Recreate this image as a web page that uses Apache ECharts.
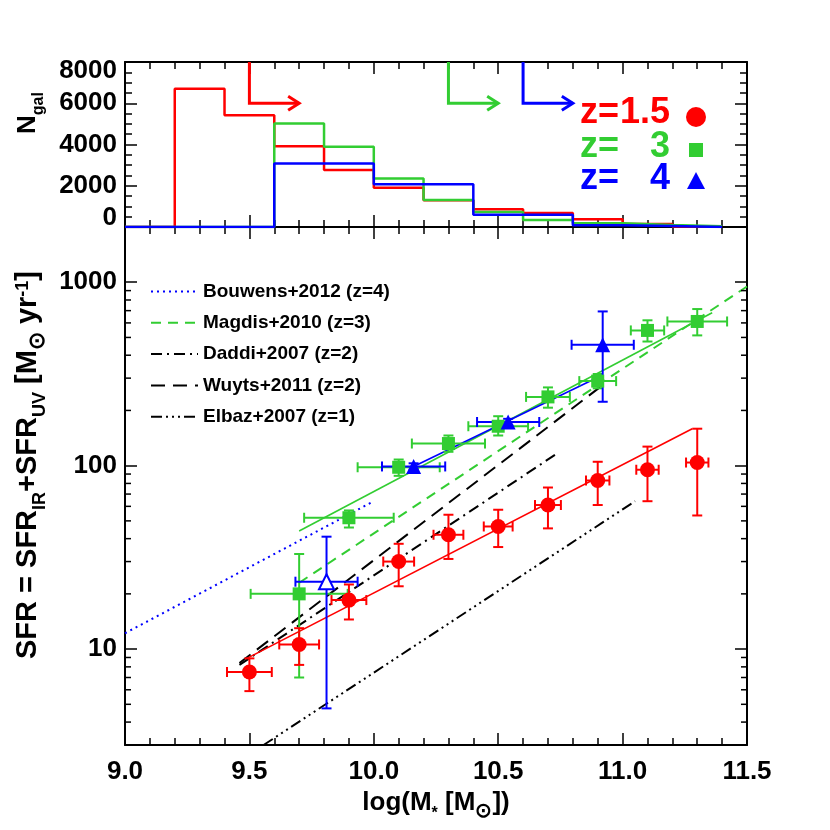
<!DOCTYPE html>
<html>
<head>
<meta charset="utf-8">
<script src="https://cdn.jsdelivr.net/npm/echarts@6/dist/echarts.min.js"></script>
<style>html,body{margin:0;padding:0;background:#fff}#chart{width:830px;height:830px}</style>
</head>
<body>
<div id="chart"></div>
<script>
// ---- top panel: number of galaxies per stellar-mass bin ----
var binEdges  = [9.0, 9.2, 9.4, 9.6, 9.8, 10.0, 10.2, 10.4, 10.6, 10.8, 11.0, 11.2, 11.4];
var histRed   = [0, 6700, 5420, 3920, 2760, 1900, 1300, 860, 680, 370, 145, 20];
var histGreen = [0, 0, 0, 5020, 3890, 2350, 1310, 730, 340, 180, 100, 40];
var histBlue  = [0, 0, 0, 3080, 3080, 2070, 2070, 600, 600, 80, 50, 0];
// mass-completeness arrows
var arrowFrom  = [9.5, 10.3, 10.6];
var arrowTo    = [9.7, 10.5, 10.8];
var arrowLevel = [6000, 6000, 6000];

// ---- main panel: stacked SFR vs mass ----
var redX    = [9.5, 9.7, 9.9, 10.1, 10.3, 10.5, 10.7, 10.9, 11.1, 11.3];
var redY    = [7.5, 10.6, 18.5, 30, 42, 46.6, 61, 83, 95, 104];
var redYlo  = [5.9, 8.2, 14.5, 22, 31, 36, 45.5, 61, 64, 53.5];
var redYhi  = [8.9, 13, 22.5, 37.5, 54, 57.5, 76, 105, 127, 159];
var redXerr = [0.09, 0.08, 0.07, 0.062, 0.06, 0.058, 0.052, 0.047, 0.045, 0.045];

var greenX    = [9.7, 9.9, 10.1, 10.3, 10.5, 10.7, 10.9, 11.1, 11.3];
var greenY    = [20, 52, 98, 132, 164, 237, 289, 546, 611];
var greenYlo  = [7, 46, 88, 119, 146, 207, 264, 475, 513];
var greenYhi  = [33, 57, 108, 146, 186, 267, 316, 620, 714];
var greenXerr = [0.195, 0.18, 0.165, 0.147, 0.12, 0.088, 0.074, 0.067, 0.12];

var blueX    = [10.16, 10.54, 10.92];
var blueY    = [99, 173, 456];
var blueYlo  = [95, 166, 223];
var blueYhi  = [103, 180, 693];
var blueXerr = [0.127, 0.125, 0.125];

var openX    = [9.81];
var openY    = [23.3];
var openYlo  = [4.75];
var openYhi  = [41];
var openXerr = [0.125];

// fits to our points
var redFitX   = [9.49, 11.28],  redFitY   = [8.9, 159];
var greenFitX = [9.70, 11.36],  greenFitY = [44, 682];
var blueFitX  = [10.16, 10.92], blueFitY  = [99, 312];

// literature relations
var modelNames = ['Bouwens+2012 (z=4)', 'Magdis+2010 (z=3)', 'Daddi+2007 (z=2)', 'Wuyts+2011 (z=2)', 'Elbaz+2007 (z=1)'];
var modelX = [[9.0, 10.0], [9.70, 11.5], [9.46, 10.73], [9.46, 10.92], [9.557, 11.05]];
var modelY = [[12.2, 64], [23, 948], [8.2, 115], [8.4, 275], [3.0, 64]];

var logMinorTicks = [4, 5, 6, 7, 8, 9, 20, 30, 40, 50, 60, 70, 80, 90, 200, 300, 400, 500, 600, 700, 800, 900];

var RED = '#ff0000', GREEN = '#32cd32', BLUE = '#0000ff';
var FONT = '"Liberation Sans", Arial, Helvetica, sans-serif';
var X_MIN = 9.0, X_MAX = 11.5, N_MAX = 8000;

function pairs(xs, ys) {
	return xs.map(function (x, i) { return [x, ys[i]]; });
}
function histData(counts) {
	var d = counts.map(function (c, i) { return [binEdges[i], c]; });
	d.push([binEdges[binEdges.length - 1], counts[counts.length - 1]]);
	return d;
}
function errData(xs, ys, xe, ylo, yhi) {
	return xs.map(function (x, i) { return [x, ys[i], x - xe[i], x + xe[i], ylo[i], yhi[i]]; });
}

function errRender(color) {
	return function (params, api) {
		var x = api.value(0), y = api.value(1);
		var c = api.coord([x, y]);
		var pl = api.coord([api.value(2), y]), ph = api.coord([api.value(3), y]);
		var pb = api.coord([x, api.value(4)]), pt = api.coord([x, api.value(5)]);
		var cap = 5;
		var st = {stroke: color, lineWidth: 2};
		function ln(x1, y1, x2, y2) { return {type: 'line', shape: {x1: x1, y1: y1, x2: x2, y2: y2}, style: st}; }
		return {type: 'group', children: [
			ln(pl[0], c[1], ph[0], c[1]),
			ln(pl[0], c[1] - cap, pl[0], c[1] + cap),
			ln(ph[0], c[1] - cap, ph[0], c[1] + cap),
			ln(c[0], pb[1], c[0], pt[1]),
			ln(c[0] - cap, pb[1], c[0] + cap, pb[1]),
			ln(c[0] - cap, pt[1], c[0] + cap, pt[1])
		]};
	};
}

var arrowColors = [RED, GREEN, BLUE];
function arrowRender(params, api) {
	var x0 = api.value(0), x1 = api.value(1), lv = api.value(2);
	var pTop = api.coord([x0, N_MAX]), pCorner = api.coord([x0, lv]), pEnd = api.coord([x1, lv]);
	var st = {stroke: arrowColors[params.dataIndex], lineWidth: 3, fill: 'none'};
	return {type: 'group', children: [
		{type: 'polyline', shape: {points: [pTop, pCorner, pEnd]}, style: st},
		{type: 'polyline', shape: {points: [[pEnd[0] - 11, pEnd[1] - 7], pEnd, [pEnd[0] - 11, pEnd[1] + 7]]}, style: st}
	]};
}

function minorTickRender(params, api) {
	var v = api.value(0);
	var l = api.coord([X_MIN, v]), r = api.coord([X_MAX, v]);
	var st = {stroke: '#000', lineWidth: 1.5};
	return {type: 'group', children: [
		{type: 'line', shape: {x1: l[0], y1: l[1], x2: l[0] + 6, y2: l[1]}, style: st},
		{type: 'line', shape: {x1: r[0], y1: r[1], x2: r[0] - 6, y2: r[1]}, style: st}
	]};
}

var tickLabel = {fontFamily: FONT, fontSize: 26, fontWeight: 'bold', color: '#000'};
function richSet(size) {
	var s = size / 26;
	return {
		a:   {fontFamily: FONT, fontSize: size, fontWeight: 'bold', color: '#000', verticalAlign: 'top', lineHeight: Math.round(30 * s)},
		sub: {fontFamily: FONT, fontSize: Math.round(16 * s), fontWeight: 'bold', color: '#000', verticalAlign: 'top', lineHeight: Math.round(18 * s), padding: [Math.round(16 * s), 0, 0, 0]},
		sun: {fontFamily: FONT, fontSize: Math.round(20 * s), fontWeight: 'bold', color: '#000', verticalAlign: 'top', lineHeight: Math.round(22 * s), padding: [Math.round(12 * s), 0, 0, 0]},
		sup: {fontFamily: FONT, fontSize: Math.round(16 * s), fontWeight: 'bold', color: '#000', verticalAlign: 'top', lineHeight: Math.round(18 * s), padding: [1, 0, 0, 0]}
	};
}

function boxX(grid, pos, labels) {
	return {
		type: 'value', gridIndex: grid, position: pos, min: X_MIN, max: X_MAX, interval: 0.5,
		axisLine: {show: true, onZero: false, lineStyle: {color: '#000', width: 2}},
		axisTick: {show: true, inside: true, length: 12, lineStyle: {color: '#000', width: 1.5}},
		minorTick: {show: true, splitNumber: 5, length: 7, lineStyle: {color: '#000', width: 1.5}},
		splitLine: {show: false}, minorSplitLine: {show: false},
		axisLabel: labels ? Object.assign({margin: 14, formatter: function (v) { return v.toFixed(1); }}, tickLabel) : {show: false}
	};
}
function histY(pos, labels) {
	return {
		type: 'value', gridIndex: 0, position: pos, min: 0, max: N_MAX, interval: 2000,
		axisLine: {show: true, onZero: false, lineStyle: {color: '#000', width: 2}},
		axisTick: {show: true, inside: true, length: 12, lineStyle: {color: '#000', width: 1.5}},
		minorTick: {show: true, splitNumber: 4, length: 7, lineStyle: {color: '#000', width: 1.5}},
		splitLine: {show: false}, minorSplitLine: {show: false},
		axisLabel: labels ? Object.assign({margin: 8, lineHeight: 18, verticalAlignMinLabel: 'bottom', verticalAlignMaxLabel: 'top',
			formatter: function (v) { return String(Math.round(v)); }}, tickLabel) : {show: false}
	};
}
function sfrY(pos, labels) {
	return {
		type: 'log', logBase: 10, gridIndex: 1, position: pos, min: 3, max: 2000,
		axisLine: {show: true, onZero: false, lineStyle: {color: '#000', width: 2}},
		axisTick: {show: true, inside: true, length: 12, lineStyle: {color: '#000', width: 1.5}},
		minorTick: {show: false},
		splitLine: {show: false},
		axisLabel: labels ? Object.assign({margin: 8, showMinLabel: false, showMaxLabel: false,
			formatter: function (v) { return String(Math.round(v)); }}, tickLabel) : {show: false}
	};
}

var modelStyles = [
	{color: BLUE, width: 2, type: [2, 4]},
	{color: GREEN, width: 2, type: [10, 7]},
	{color: '#000', width: 2, type: [11, 5, 2, 5]},
	{color: '#000', width: 2, type: [14, 8]},
	{color: '#000', width: 2, type: [11, 4, 2, 4, 2, 4, 2, 4]}
];

var series = [];
[[histRed, RED], [histGreen, GREEN], [histBlue, BLUE]].forEach(function (h) {
	series.push({type: 'line', xAxisIndex: 0, yAxisIndex: 0, step: 'end', data: histData(h[0]),
		symbol: 'none', silent: true, lineStyle: {color: h[1], width: 2.5}, z: 3});
});
series.push({type: 'custom', xAxisIndex: 0, yAxisIndex: 0, renderItem: arrowRender, silent: true, z: 4,
	encode: {x: [0, 1], y: 2},
	data: arrowFrom.map(function (x, i) { return [x, arrowTo[i], arrowLevel[i]]; })});

modelNames.forEach(function (name, i) {
	series.push({type: 'line', name: name, xAxisIndex: 2, yAxisIndex: 2, data: pairs(modelX[i], modelY[i]),
		symbol: 'none', silent: true, lineStyle: modelStyles[i], itemStyle: {color: modelStyles[i].color}, z: 2});
});
[[redFitX, redFitY, RED], [greenFitX, greenFitY, GREEN], [blueFitX, blueFitY, BLUE]].forEach(function (f) {
	series.push({type: 'line', xAxisIndex: 2, yAxisIndex: 2, data: pairs(f[0], f[1]),
		symbol: 'none', silent: true, lineStyle: {color: f[2], width: 1.6}, z: 2});
});
[
	[errData(greenX, greenY, greenXerr, greenYlo, greenYhi), GREEN],
	[errData(redX, redY, redXerr, redYlo, redYhi), RED],
	[errData(blueX, blueY, blueXerr, blueYlo, blueYhi), BLUE],
	[errData(openX, openY, openXerr, openYlo, openYhi), BLUE]
].forEach(function (e) {
	series.push({type: 'custom', xAxisIndex: 2, yAxisIndex: 2, renderItem: errRender(e[1]), silent: true, z: 3,
		encode: {x: [0, 2, 3], y: [1, 4, 5]}, data: e[0]});
});
series.push({type: 'scatter', xAxisIndex: 2, yAxisIndex: 2, data: pairs(greenX, greenY), symbol: 'rect', symbolSize: 13,
	itemStyle: {color: GREEN, opacity: 1}, silent: true, z: 4});
series.push({type: 'scatter', xAxisIndex: 2, yAxisIndex: 2, data: pairs(redX, redY), symbol: 'circle', symbolSize: 15,
	itemStyle: {color: RED, opacity: 1}, silent: true, z: 4});
series.push({type: 'scatter', xAxisIndex: 2, yAxisIndex: 2, data: pairs(blueX, blueY), symbol: 'triangle', symbolSize: 15,
	itemStyle: {color: BLUE, opacity: 1}, silent: true, z: 4});
series.push({type: 'scatter', xAxisIndex: 2, yAxisIndex: 2, data: pairs(openX, openY), symbol: 'emptyTriangle', symbolSize: 15,
	itemStyle: {color: BLUE, borderWidth: 2, opacity: 1}, silent: true, z: 4});
series.push({type: 'custom', xAxisIndex: 2, yAxisIndex: 2, renderItem: minorTickRender, silent: true, z: 5,
	encode: {y: 0}, data: logMinorTicks.map(function (v) { return [v]; })});

var chart = echarts.init(document.getElementById('chart'));
chart.setOption({
	animation: false,
	backgroundColor: '#fff',
	grid: [
		{left: 125, top: 62, width: 622, height: 165},
		{left: 125, top: 227, width: 622, height: 518}
	],
	xAxis: [
		boxX(0, 'bottom', false),
		boxX(0, 'top', false),
		Object.assign(boxX(1, 'bottom', true), {
			name: '{a|log(M}{sub|*}{a| [M}{sun|⊙}{a|])}', nameLocation: 'middle', nameGap: 40,
			nameTextStyle: {rich: richSet(26)}
		}),
		boxX(1, 'top', false)
	],
	yAxis: [histY('left', true), histY('right', false), sfrY('left', true), sfrY('right', false)],
	legend: {
		data: modelNames, orient: 'vertical', left: 145, top: 277,
		itemWidth: 47, itemHeight: 12, itemGap: 12.3, selectedMode: false,
		itemStyle: {opacity: 0},
		textStyle: {fontFamily: FONT, fontSize: 19, fontWeight: 'bold', color: '#000'}
	},
	graphic: [
		{type: 'text', x: 30, y: 113, rotation: Math.PI / 2,
			style: {text: '{a|N}{sub|gal}', rich: richSet(26), align: 'center', verticalAlign: 'middle'}},
		{type: 'text', x: 30, y: 465, rotation: Math.PI / 2,
			style: {text: '{a|SFR = SFR}{sub|IR}{a|+SFR}{sub|UV}{a| [M}{sun|⊙}{a| yr}{sup|-1}{a|]}', rich: richSet(29),
				align: 'center', verticalAlign: 'middle'}},
		{type: 'text', x: 580, y: 113, style: {text: 'z=', fill: RED, font: 'bold 36px ' + FONT, align: 'left', verticalAlign: 'middle'}},
		{type: 'text', x: 670, y: 113, style: {text: '1.5', fill: RED, font: 'bold 36px ' + FONT, align: 'right', verticalAlign: 'middle'}},
		{type: 'text', x: 580, y: 147, style: {text: 'z=', fill: GREEN, font: 'bold 36px ' + FONT, align: 'left', verticalAlign: 'middle'}},
		{type: 'text', x: 670, y: 147, style: {text: '3', fill: GREEN, font: 'bold 36px ' + FONT, align: 'right', verticalAlign: 'middle'}},
		{type: 'text', x: 580, y: 179, style: {text: 'z=', fill: BLUE, font: 'bold 36px ' + FONT, align: 'left', verticalAlign: 'middle'}},
		{type: 'text', x: 670, y: 179, style: {text: '4', fill: BLUE, font: 'bold 36px ' + FONT, align: 'right', verticalAlign: 'middle'}},
		{type: 'circle', shape: {cx: 696, cy: 117, r: 10}, style: {fill: RED}},
		{type: 'rect', shape: {x: 689, y: 143, width: 14, height: 14}, style: {fill: GREEN}},
		{type: 'polygon', shape: {points: [[696, 172], [705, 189], [687, 189]]}, style: {fill: BLUE}}
	],
	series: series
});
</script>
</body>
</html>
